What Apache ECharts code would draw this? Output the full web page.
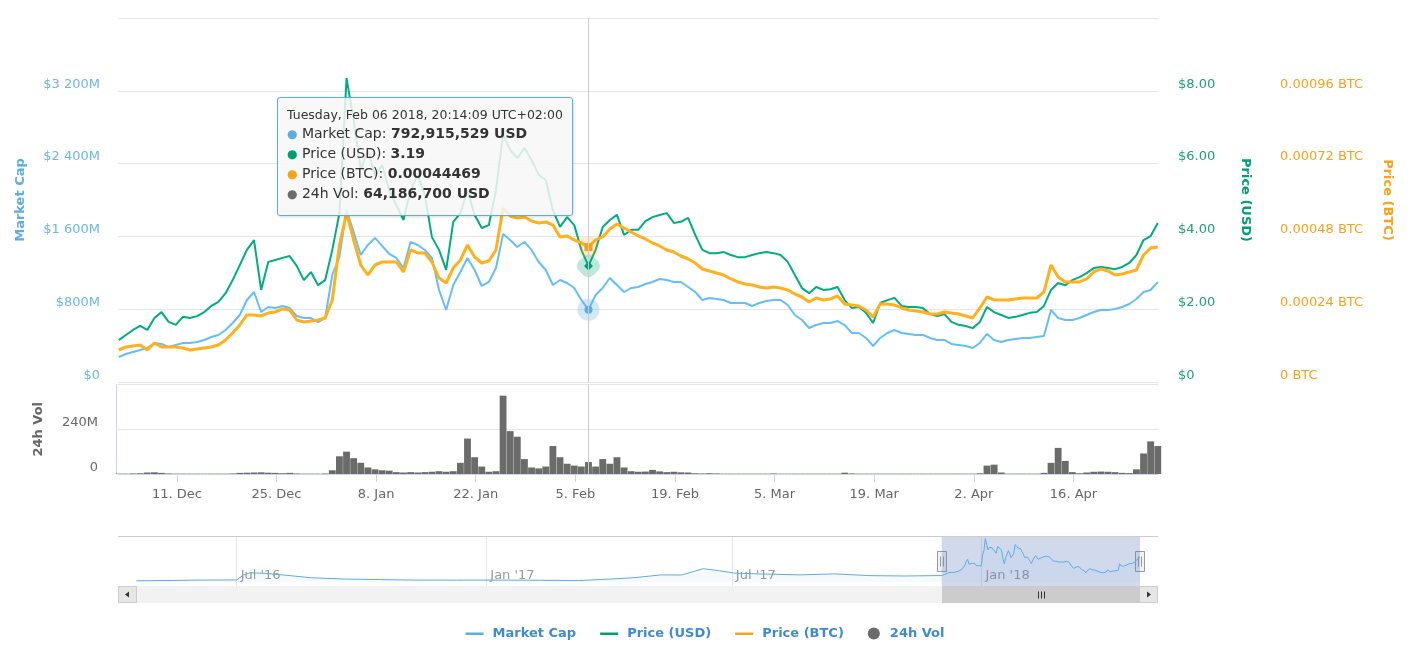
<!DOCTYPE html>
<html>
<head>
<meta charset="utf-8">
<title>Market cap / price / volume</title>
<script src="https://cdn.jsdelivr.net/npm/echarts@6/dist/echarts.min.js"></script>
<style>
  html, body { margin: 0; padding: 0; background: #fff; }
  #chart { width: 1410px; height: 648px; }
</style>
</head>
<body>
<div id="chart"></div>
<script>
const HOUR = 3600 * 1000
const DAY = 24 * HOUR
const TZ = 2 * HOUR // chart is shown in UTC+02:00

// one sample per day, the first one on 2017-12-02 20:14:09 (UTC+02:00)
const FIRST_POINT = '2017-12-02 20:14:09'

// market cap, million USD
const MCAP = [
  275, 308, 330, 352, 374, 429, 418, 385, 407, 429,
  429, 440, 462, 495, 517, 571, 648, 736, 901, 989,
  769, 824, 813, 835, 813, 725, 703, 703, 659, 703,
  1176, 1374, 1890, 1649, 1396, 1506, 1583, 1495, 1407, 1363,
  1253, 1539, 1506, 1451, 1363, 1011, 791, 1066, 1209, 1363,
  1231, 1055, 1099, 1253, 1627, 1561, 1484, 1539, 1451, 1319,
  1231, 1066, 1121, 1088, 1033, 901, 792.915529, 956, 1033, 1143,
  1066, 989, 1033, 1044, 1077, 1099, 1132, 1121, 1099, 1099,
  1044, 989, 901, 923, 912, 901, 868, 868, 868, 835,
  868, 890, 901, 901, 846, 736, 681, 593, 626, 648,
  648, 670, 626, 539, 539, 484, 396, 484, 539, 571,
  539, 528, 517, 517, 484, 462, 462, 418, 407, 396,
  374, 429, 528, 462, 440, 462, 473, 484, 484, 495,
  506, 791, 703, 681, 681, 703, 736, 769, 791, 791,
  802, 824, 857, 912, 989, 1011, 1099
]

// price, USD
const PRICE_USD = [
  1.15, 1.29, 1.43, 1.54, 1.43, 1.76, 1.92, 1.65, 1.57, 1.79,
  1.76, 1.81, 1.92, 2.09, 2.20, 2.44, 2.80, 3.21, 3.63, 3.90,
  2.53, 3.30, 3.35, 3.41, 3.46, 3.19, 2.80, 3.02, 2.66, 2.80,
  3.63, 4.64, 8.35, 7.20, 5.82, 6.37, 5.69, 5.96, 5.27, 4.86,
  4.45, 5.27, 5.69, 5.14, 3.98, 3.63, 3.08, 4.40, 4.64, 5.27,
  4.59, 4.23, 4.31, 5.27, 6.79, 6.37, 6.15, 6.43, 6.10, 5.69,
  5.55, 4.72, 4.26, 4.53, 4.31, 3.63, 3.19, 3.63, 4.26, 4.45,
  4.59, 4.04, 4.18, 4.18, 4.42, 4.53, 4.59, 4.64, 4.37, 4.40,
  4.51, 4.04, 3.63, 3.54, 3.54, 3.57, 3.49, 3.43, 3.43, 3.49,
  3.54, 3.57, 3.54, 3.49, 3.30, 2.94, 2.58, 2.44, 2.61, 2.53,
  2.55, 2.61, 2.25, 2.03, 2.06, 1.90, 1.62, 2.17, 2.25, 2.31,
  2.09, 2.06, 2.06, 2.03, 1.87, 1.81, 1.87, 1.65, 1.57, 1.54,
  1.48, 1.65, 2.06, 1.92, 1.84, 1.76, 1.79, 1.84, 1.90, 1.92,
  2.09, 2.53, 2.72, 2.66, 2.80, 2.88, 2.99, 3.13, 3.16, 3.13,
  3.10, 3.16, 3.27, 3.49, 3.90, 4.01, 4.37
]

// price, BTC
const PRICE_BTC = [
  0.0001055, 0.0001154, 0.0001187, 0.0001220, 0.0001055, 0.0001286, 0.0001154, 0.0001154, 0.0001154, 0.0001121,
  0.0001055, 0.0001088, 0.0001121, 0.0001154, 0.0001220, 0.0001385, 0.0001616, 0.0001879, 0.0002209, 0.0002209,
  0.0002176, 0.0002275, 0.0002308, 0.0002407, 0.0002374, 0.0002044, 0.0001978, 0.0002011, 0.0002044, 0.0002110,
  0.0002704, 0.0004517, 0.0005572, 0.0004682, 0.0003857, 0.0003528, 0.0003857, 0.0003956, 0.0003956, 0.0003956,
  0.0003627, 0.0004352, 0.0004253, 0.0004253, 0.0003956, 0.0003429, 0.0003264, 0.0003759, 0.0004022, 0.0004517,
  0.0004121, 0.0003923, 0.0003989, 0.0004352, 0.0005737, 0.0005473, 0.0005407, 0.0005440, 0.0005308, 0.0005242,
  0.0005275, 0.0005176, 0.0004781, 0.0004814, 0.0004682, 0.0004583, 0.00044469, 0.0004682, 0.0004781, 0.0005044,
  0.0005209, 0.0005077, 0.0004946, 0.0004814, 0.0004715, 0.0004583, 0.0004484, 0.0004352, 0.0004286, 0.0004154,
  0.0004055, 0.0003923, 0.0003726, 0.0003660, 0.0003594, 0.0003528, 0.0003396, 0.0003297, 0.0003231, 0.0003198,
  0.0003132, 0.0003099, 0.0003132, 0.0003099, 0.0003033, 0.0002901, 0.0002802, 0.0002638, 0.0002769, 0.0002704,
  0.0002737, 0.0002835, 0.0002572, 0.0002539, 0.0002506, 0.0002374, 0.0002143, 0.0002572, 0.0002572, 0.0002539,
  0.0002440, 0.0002374, 0.0002341, 0.0002308, 0.0002242, 0.0002242, 0.0002308, 0.0002275, 0.0002242, 0.0002176,
  0.0002110, 0.0002440, 0.0002802, 0.0002704, 0.0002704, 0.0002704, 0.0002737, 0.0002769, 0.0002769, 0.0002769,
  0.0002967, 0.0003857, 0.0003462, 0.0003297, 0.0003297, 0.0003297, 0.0003396, 0.0003627, 0.0003726, 0.0003660,
  0.0003528, 0.0003561, 0.0003627, 0.0003693, 0.0004187, 0.0004418, 0.0004451
]

// 24h volume, million USD
const VOLUME = [
  2, 2, 3, 4, 8, 9, 6, 3, 2, 2,
  2, 2, 2, 2, 2, 2, 3, 6, 7, 8,
  9, 7, 6, 4, 6, 3, 2, 2, 2, 3,
  20, 95, 120, 85, 60, 35, 25, 20, 18, 10,
  8, 10, 8, 10, 12, 15, 12, 15, 60, 190,
  90, 40, 12, 15, 420, 230, 200, 80, 35, 30,
  40, 150, 90, 55, 45, 40, 64.1867, 40, 80, 55,
  90, 35, 15, 12, 13, 22, 14, 10, 12, 9,
  8, 4, 3, 4, 3, 2, 2, 2, 2, 2,
  2, 2, 3, 2, 2, 2, 2, 2, 2, 2,
  2, 2, 7, 3, 2, 2, 2, 2, 2, 2,
  2, 2, 2, 2, 2, 2, 2, 2, 2, 2,
  2, 4, 45, 50, 8, 2, 2, 2, 2, 2,
  6, 60, 140, 70, 10, 4, 8, 12, 13, 12,
  10, 6, 5, 25, 110, 175, 150
]

// older market cap history, only shown in the navigator (million USD)
const HIST_DATES = [
  '2016-04-18', '2016-05-01', '2016-05-15', '2016-06-01', '2016-06-15', '2016-07-01',
  '2016-07-06', '2016-07-11', '2016-07-22', '2016-08-05', '2016-08-25', '2016-09-20',
  '2016-10-15', '2016-11-10', '2016-12-10', '2017-01-10', '2017-02-10', '2017-03-10',
  '2017-04-01', '2017-04-20', '2017-05-10', '2017-05-25', '2017-06-10', '2017-06-22',
  '2017-07-03', '2017-07-25', '2017-08-20', '2017-09-15', '2017-10-10', '2017-11-05',
  '2017-11-30'
]
const HIST_MCAP = [
  47, 55, 62, 78, 80, 85,
  300, 398, 371, 297, 179, 122,
  100, 78, 75, 78, 70, 56,
  120, 183, 306, 300, 577, 485,
  385, 341, 306, 349, 275, 257,
  275
]

const TICK_DATES = [
  '2017-12-11', '2017-12-25', '2018-01-08', '2018-01-22', '2018-02-05',
  '2018-02-19', '2018-03-05', '2018-03-19', '2018-04-02', '2018-04-16'
]
const NAV_TICK_DATES = ['2016-07-01', '2017-01-01', '2017-07-01', '2018-01-01']

const VIEW_START = '2017-12-02 17:30'
const VIEW_END = '2018-04-27 21:00'
const NAV_START = '2016-04-18 12:00'
const TIP_TIME = '2018-02-06 20:14:09'

const FONT = 'DejaVu Sans'
const BLUE = '#5dade2'
const GREEN = '#009e73'
const ORANGE = '#f9a11b'
const VOL_GRAY = '#6b6b6b'
const MONTHS = ['Jan', 'Feb', 'Mar', 'Apr', 'May', 'Jun', 'Jul', 'Aug', 'Sep', 'Oct', 'Nov', 'Dec']
const WEEKDAYS = ['Sunday', 'Monday', 'Tuesday', 'Wednesday', 'Thursday', 'Friday', 'Saturday']
const SERIES_NAMES = ['Market Cap', 'Price (USD)', 'Price (BTC)', '24h Vol']

// 'YYYY-MM-DD[ HH:mm[:ss]]' read as UTC+02:00
function t(s) {
  let iso = s.replace(' ', 'T')
  if (iso.length === 10) iso += 'T00:00'
  if (iso.length === 16) iso += ':00'
  return Date.parse(iso + '+02:00')
}

const pad = n => String(n).padStart(2, '0')
const commas = n => String(Math.round(n)).replace(/\B(?=(\d{3})+(?!\d))/g, ',')
const spaced = n => String(n).replace(/\B(?=(\d{3})+(?!\d))/g, ' ')

const first = t(FIRST_POINT)
const times = MCAP.map((_, i) => first + i * DAY)
const pairs = arr => arr.map((v, i) => [times[i], v])

const navData = HIST_DATES.map((d, i) => [t(d), HIST_MCAP[i]]).concat(pairs(MCAP))
const ticks = TICK_DATES.map(t)
const navTicks = NAV_TICK_DATES.map(t)

function dayLabel(v) {
  const d = new Date(v + TZ)
  return d.getUTCDate() + '. ' + MONTHS[d.getUTCMonth()]
}

function monthLabel(v) {
  const d = new Date(v + TZ)
  return MONTHS[d.getUTCMonth()] + " '" + String(d.getUTCFullYear()).slice(2)
}

function tooltipText(params) {
  const ps = params.filter(p => SERIES_NAMES.includes(p.seriesName))
  if (!ps.length) return ''
  const d = new Date(ps[0].value[0] + TZ)
  const head = WEEKDAYS[d.getUTCDay()] + ', ' + MONTHS[d.getUTCMonth()] + ' ' + pad(d.getUTCDate()) + ' ' +
    d.getUTCFullYear() + ', ' + pad(d.getUTCHours()) + ':' + pad(d.getUTCMinutes()) + ':' + pad(d.getUTCSeconds()) +
    ' UTC+02:00'
  let html = '<div style="font-size:12.5px;line-height:18px;">' + head + '</div>'
  ps.forEach(p => {
    const v = p.value[1]
    let txt
    if (p.seriesName === 'Market Cap' || p.seriesName === '24h Vol') txt = commas(v * 1e6) + ' USD'
    else if (p.seriesName === 'Price (BTC)') txt = v.toFixed(8)
    else txt = String(v)
    html += '<div style="font-size:14px;line-height:19px;white-space:nowrap;">' +
      '<span style="color:' + p.color + ';font-size:12px;">\u25CF</span> ' + p.seriesName + ': ' +
      '<b>' + txt + '</b></div>'
  })
  return html
}

const LINE_ICON = 'path://M0,0 M22,12 M0,5 L18,5 L18,7.5 L0,7.5 Z'
const nameStyle = color => ({ color, fontWeight: 'bold', fontSize: 13, fontFamily: FONT })
const labelStyle = color => ({ color, fontSize: 13, fontFamily: FONT })

const chart = echarts.init(document.getElementById('chart'))

const option = {
  animation: false,
  backgroundColor: '#ffffff',
  textStyle: { fontFamily: FONT },
  grid: [
    { left: 118, right: 252, top: 18, height: 364 },
    { left: 118, right: 252, top: 384.5, height: 89.5 },
    { left: 137, right: 270, top: 537, height: 49 }
  ],
  legend: {
    left: 'center',
    top: 622,
    itemWidth: 22,
    itemHeight: 12,
    itemGap: 24,
    selectedMode: false,
    itemStyle: { borderWidth: 0 },
    textStyle: { color: '#3f8bd1', fontWeight: 'bold', fontSize: 13, fontFamily: FONT },
    data: [
      { name: 'Market Cap', icon: LINE_ICON },
      { name: 'Price (USD)', icon: LINE_ICON },
      { name: 'Price (BTC)', icon: LINE_ICON },
      { name: '24h Vol', icon: 'circle' }
    ]
  },
  tooltip: {
    trigger: 'axis',
    alwaysShowContent: true,
    transitionDuration: 0,
    showDelay: 0,
    position: [277, 97],
    axisPointer: {
      type: 'line',
      lineStyle: { color: '#cccccc', width: 1, type: 'solid' },
      label: { show: false }
    },
    backgroundColor: 'rgba(247,247,247,0.85)',
    borderColor: BLUE,
    borderWidth: 1,
    padding: [8, 9, 11, 9],
    extraCssText: 'border-radius:3px;box-shadow:1px 1px 3px rgba(0,0,0,0.15);',
    textStyle: { fontFamily: FONT, color: '#333333' },
    formatter: tooltipText
  },
  axisPointer: { link: [{ xAxisIndex: [0, 1] }] },
  xAxis: [
    {
      type: 'value', gridIndex: 0, min: t(VIEW_START), max: t(VIEW_END),
      axisLine: { show: false }, axisTick: { show: false }, axisLabel: { show: false },
      splitLine: { show: false }
    },
    {
      type: 'value', gridIndex: 1, min: t(VIEW_START), max: t(VIEW_END),
      axisLine: { lineStyle: { color: '#ccd6eb' } },
      axisTick: { customValues: ticks, length: 8, lineStyle: { color: '#ccd6eb' } },
      axisLabel: { customValues: ticks, formatter: dayLabel, margin: 14, ...labelStyle('#666666') },
      splitLine: { show: false }
    },
    {
      type: 'value', gridIndex: 2, min: t(NAV_START), max: t(VIEW_END),
      axisLine: { show: false },
      axisTick: { show: false, customValues: navTicks },
      axisLabel: {
        inside: true, customValues: navTicks, formatter: monthLabel, align: 'left',
        padding: [0, 0, 0, 4], margin: 4, ...labelStyle('#999999')
      },
      splitLine: { show: true, lineStyle: { color: '#e6e6e6' } }
    }
  ],
  yAxis: [
    {
      type: 'value', gridIndex: 0, position: 'left', min: 0, max: 4000, interval: 800,
      name: 'Market Cap', nameLocation: 'middle', nameRotate: 90, nameGap: 91,
      nameTextStyle: nameStyle(BLUE),
      axisLine: { show: false }, axisTick: { show: false },
      axisLabel: {
        margin: 18, verticalAlign: 'bottom', ...labelStyle('#6fb5e8'),
        formatter: v => v >= 4000 ? '' : (v ? '$' + spaced(v) + 'M' : '$0')
      },
      splitLine: { lineStyle: { color: '#e6e6e6' } }
    },
    {
      type: 'value', gridIndex: 0, position: 'right', min: 0, max: 10, interval: 2,
      name: 'Price (USD)', nameLocation: 'middle', nameRotate: -90, nameGap: 81,
      nameTextStyle: nameStyle(GREEN),
      axisLine: { show: false }, axisTick: { show: false },
      axisLabel: {
        margin: 20, verticalAlign: 'bottom', ...labelStyle('#1d9f7c'),
        formatter: v => v >= 10 ? '' : (v ? '$' + v.toFixed(2) : '$0')
      },
      splitLine: { show: false }
    },
    {
      type: 'value', gridIndex: 0, position: 'right', offset: 102, min: 0, max: 0.0012, interval: 0.00024,
      name: 'Price (BTC)', nameLocation: 'middle', nameRotate: -90, nameGap: 121,
      nameTextStyle: nameStyle(ORANGE),
      axisLine: { show: false }, axisTick: { show: false },
      axisLabel: {
        margin: 20, verticalAlign: 'bottom', ...labelStyle(ORANGE),
        formatter: v => v > 0.0012 - 1e-9 ? '' : (v ? v.toFixed(5) + ' BTC' : '0 BTC')
      },
      splitLine: { show: false }
    },
    {
      type: 'value', gridIndex: 1, position: 'left', offset: 2, min: 0, max: 480, interval: 240,
      name: '24h Vol', nameLocation: 'middle', nameRotate: 90, nameGap: 71,
      nameTextStyle: nameStyle('#666666'),
      axisLine: { show: true, lineStyle: { color: '#ccd6eb' } }, axisTick: { show: false },
      axisLabel: {
        margin: 18, verticalAlign: 'bottom', ...labelStyle('#666666'),
        formatter: v => v >= 480 ? '' : (v ? v + 'M' : '0')
      },
      splitLine: { lineStyle: { color: '#e6e6e6' } }
    },
    { type: 'value', gridIndex: 2, min: -180, max: 1960, show: false }
  ],
  series: [
    {
      name: 'Market Cap', type: 'line', xAxisIndex: 0, yAxisIndex: 0, data: pairs(MCAP),
      showSymbol: false, symbol: 'circle', symbolSize: 8, z: 2,
      lineStyle: { color: BLUE, width: 2 },
      itemStyle: { color: BLUE, borderColor: '#ffffff', borderWidth: 1 },
      emphasis: { scale: false, itemStyle: { color: BLUE, borderColor: 'rgba(93,173,226,0.28)', borderWidth: 14 } }
    },
    {
      name: 'Price (USD)', type: 'line', xAxisIndex: 0, yAxisIndex: 1, data: pairs(PRICE_USD),
      showSymbol: false, symbol: 'diamond', symbolSize: 9, z: 3,
      lineStyle: { color: GREEN, width: 2 },
      itemStyle: { color: GREEN, borderColor: '#ffffff', borderWidth: 1 },
      emphasis: { scale: false, itemStyle: { color: GREEN, borderColor: 'rgba(0,158,115,0.25)', borderWidth: 14, borderJoin: 'round' } }
    },
    {
      name: 'Price (BTC)', type: 'line', xAxisIndex: 0, yAxisIndex: 2, data: pairs(PRICE_BTC),
      showSymbol: false, symbol: 'rect', symbolSize: 8, z: 4,
      lineStyle: { color: ORANGE, width: 3 },
      itemStyle: { color: ORANGE, borderColor: '#ffffff', borderWidth: 1 },
      emphasis: { scale: false, itemStyle: { color: ORANGE, borderColor: 'rgba(249,161,27,0.2)', borderWidth: 12, borderJoin: 'round' } }
    },
    {
      name: '24h Vol', type: 'bar', xAxisIndex: 1, yAxisIndex: 3, data: pairs(VOLUME),
      barCategoryGap: '4%', itemStyle: { color: VOL_GRAY },
      emphasis: { disabled: true }
    },
    {
      name: 'navigator', type: 'line', xAxisIndex: 2, yAxisIndex: 4, data: navData,
      showSymbol: false, silent: true, tooltip: { show: false }, z: 3,
      lineStyle: { color: BLUE, width: 1 },
      areaStyle: { color: 'rgba(93,173,226,0.08)' },
      emphasis: { disabled: true },
      markArea: {
        silent: true,
        itemStyle: { color: 'rgba(102,133,194,0.3)' },
        data: [[{ xAxis: t(VIEW_START) }, { xAxis: t(VIEW_END) }]]
      }
    }
  ]
}

chart.setOption(option)

// navigator chrome: outline, scrollbar, handles placed on the selected range
const x0 = chart.convertToPixel({ xAxisIndex: 2 }, t(VIEW_START))
const x1 = chart.convertToPixel({ xAxisIndex: 2 }, t(VIEW_END))
const midY = 561.5
const handle = x => ({
  type: 'group', silent: true, z: 10,
  children: [
    { type: 'rect', shape: { x: Math.round(x) - 4.5, y: midY - 10, width: 9, height: 20 }, style: { fill: '#f2f2f2', stroke: '#999999', lineWidth: 1 } },
    { type: 'line', shape: { x1: Math.round(x) - 1.5, y1: midY - 5, x2: Math.round(x) - 1.5, y2: midY + 5 }, style: { stroke: '#999999', lineWidth: 1 } },
    { type: 'line', shape: { x1: Math.round(x) + 1.5, y1: midY - 5, x2: Math.round(x) + 1.5, y2: midY + 5 }, style: { stroke: '#999999', lineWidth: 1 } }
  ]
})
const gripX = Math.round((x0 + x1) / 2) + 0.5
chart.setOption({
  graphic: [
    { type: 'line', silent: true, shape: { x1: 118, y1: 536.5, x2: 1158, y2: 536.5 }, style: { stroke: '#cccccc', lineWidth: 1 } },
    { type: 'rect', silent: true, shape: { x: 118, y: 586, width: 1040, height: 17 }, style: { fill: '#f2f2f2' } },
    { type: 'rect', silent: true, shape: { x: Math.round(x0) + 0.5, y: 586.5, width: Math.round(x1 - x0) - 1, height: 16 }, style: { fill: '#cccccc', stroke: '#cccccc' } },
    { type: 'line', silent: true, shape: { x1: gripX - 3, y1: 591.5, x2: gripX - 3, y2: 598.5 }, style: { stroke: '#333333', lineWidth: 1 } },
    { type: 'line', silent: true, shape: { x1: gripX, y1: 591.5, x2: gripX, y2: 598.5 }, style: { stroke: '#333333', lineWidth: 1 } },
    { type: 'line', silent: true, shape: { x1: gripX + 3, y1: 591.5, x2: gripX + 3, y2: 598.5 }, style: { stroke: '#333333', lineWidth: 1 } },
    { type: 'rect', silent: true, shape: { x: 118.5, y: 586.5, width: 18, height: 16 }, style: { fill: '#e6e6e6', stroke: '#cccccc' } },
    { type: 'polygon', silent: true, shape: { points: [[125, 594.5], [129, 591.5], [129, 597.5]] }, style: { fill: '#333333' } },
    { type: 'rect', silent: true, shape: { x: 1139.5, y: 586.5, width: 18, height: 16 }, style: { fill: '#e6e6e6', stroke: '#cccccc' } },
    { type: 'polygon', silent: true, shape: { points: [[1151, 594.5], [1147, 591.5], [1147, 597.5]] }, style: { fill: '#333333' } },
    handle(x0),
    handle(x1)
  ]
})

const tipIndex = times.indexOf(t(TIP_TIME))
function showTip() {
  chart.dispatchAction({ type: 'showTip', seriesIndex: 0, dataIndex: tipIndex })
}
showTip()
setTimeout(showTip, 50)
</script>
</body>
</html>
